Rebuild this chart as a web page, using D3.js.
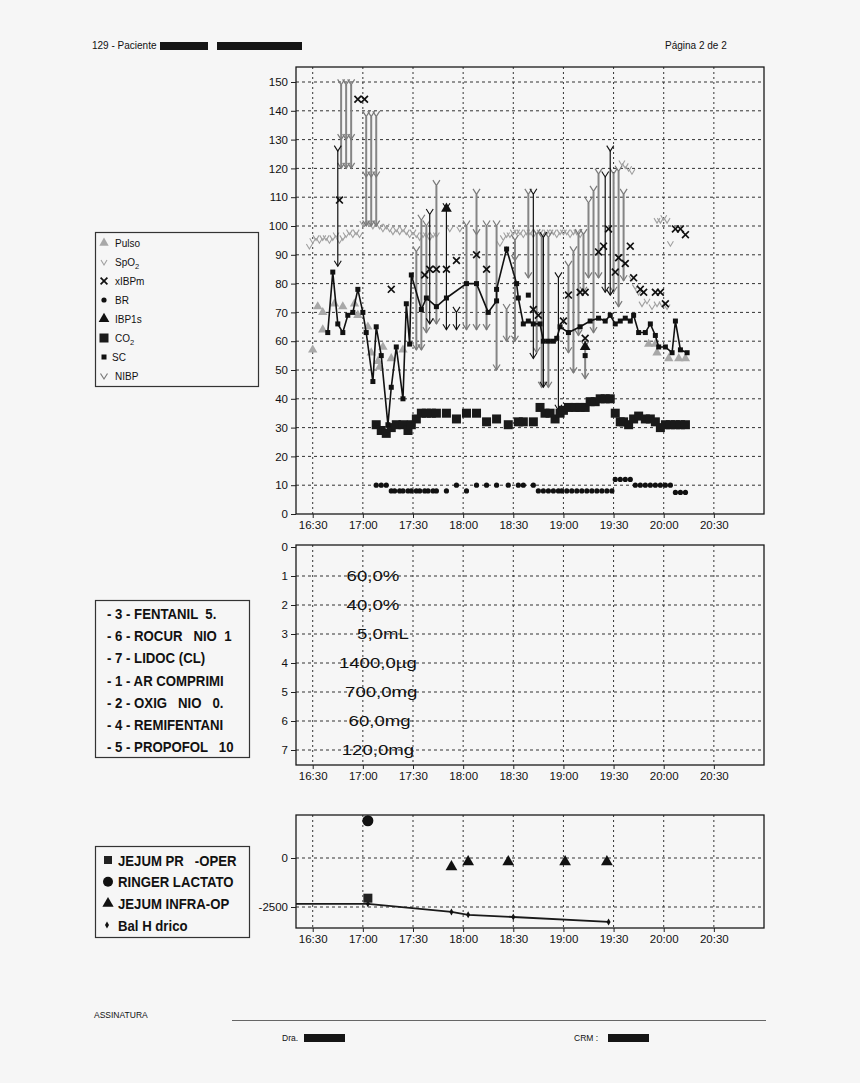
<!DOCTYPE html>
<html>
<head>
<meta charset="utf-8">
<script src="https://cdn.jsdelivr.net/npm/d3@7"></script>
<style>
  body { margin: 0; background: #f6f6f6; }
  text { font-family: "Liberation Sans", Arial, sans-serif; fill: #111; }
</style>
</head>
<body>
<svg id="page" width="860" height="1083"></svg>
<script>
const tp = d3.timeParse("%H:%M");

// ---------- vital signs (top chart) ----------
const pulsoTime = ["16:30","16:33","16:36","16:36","16:43","16:48","16:55","16:57","17:03","17:05","17:09","17:10","17:12","17:17","17:24","19:51","19:55","19:56","20:03","20:09","20:13"];
const pulsoVal  = [57,72,70,64,73,72,73,69,65,56,53,51,58,54,57,59,59,56,54,54,54];

const spo2Time = ["16:28","16:30","16:32","16:34","16:36","16:38","16:40","16:42","16:44","16:46","16:48","16:50","16:52","16:54","16:56","16:58",
  "17:00","17:02","17:04","17:06","17:08","17:10","17:12","17:14","17:16","17:18","17:20","17:22","17:24","17:26","17:28","17:30","17:32","17:34","17:36","17:38","17:40","17:42","17:44",
  "17:52","17:58","18:22","18:24","18:26","18:28","18:30","18:32","18:34","18:36","18:38","18:40","18:42","18:44","18:46","18:48","18:50","18:52","18:54","18:56","18:58",
  "19:00","19:02","19:04","19:06","19:08","19:10","19:35","19:37","19:39","19:41","19:56","19:58","20:00","20:02","20:04"];
const spo2Val  = [92,94,95,94,95,95,94,95,96,94,95,96,97,96,97,96,
  100,100,100,99,100,99,98,99,98,97,98,97,98,97,96,97,96,95,96,96,95,96,96,
  98,98,93,95,96,96,97,97,97,96,97,97,96,97,97,96,97,97,97,96,97,
  97,97,96,97,97,96,121,120,119,118,101,101,102,101,93];

const xibpTime = ["16:46","16:57","17:01","17:17","17:37","17:40","17:44","17:50","17:56","18:08","18:14","18:42","18:45","19:00","19:03","19:10","19:13","19:13",
  "19:21","19:24","19:27","19:31","19:33","19:37","19:40","19:42","19:46","19:48","19:55","19:58","20:01","20:07","20:10","20:13"];
const xibpVal  = [109,144,144,78,83,85,85,85,88,90,85,71,69,67,76,77,77,61,91,93,99,84,89,87,93,82,78,77,77,77,73,99,99,97];

const brTime = ["17:08","17:11","17:14","17:17","17:19","17:22","17:24","17:27","17:29","17:32","17:34","17:37","17:39","17:42","17:44",
  "17:50","17:56","18:02","18:08","18:14","18:20","18:27","18:33","18:36","18:42",
  "18:45","18:48","18:51","18:54","18:57","18:59","19:02","19:05","19:08","19:11","19:14","19:17","19:20","19:23","19:26","19:29",
  "19:31","19:34","19:37","19:40","19:43","19:46","19:49","19:52","19:55","19:58","20:01","20:04","20:07","20:10","20:13"];
const brVal  = [10,10,10,8,8,8,8,8,8,8,8,8,8,8,8,
  8,10,8,10,10,10,10,10,10,10,
  8,8,8,8,8,8,8,8,8,8,8,8,8,8,8,8,
  12,12,12,12,10,10,10,10,10,10,10,10,7.5,7.5,7.5];

const ibp1sTime = ["17:50","19:13"];
const ibp1sVal  = [106,58];

const co2Time = ["17:08","17:11","17:14","17:17","17:20","17:24","17:27","17:29","17:32","17:35","17:38","17:41","17:44","17:50","17:56","18:02","18:08","18:14",
  "18:20","18:27","18:33","18:36","18:42","18:46","18:49","18:52","18:55","18:58","19:00","19:03","19:07","19:10","19:13","19:16","19:19","19:22","19:25","19:28",
  "19:31","19:34","19:36","19:39","19:42","19:45","19:49","19:52","19:55","19:58","20:01","20:04","20:07","20:10","20:13"];
const co2Val  = [31,29,28,30,31,31,29,31,33,35,35,35,35,35,33,35,35,32,
  33,31,32,32,32,37,35,35,33,35,36,37,37,37,37,39,39,40,40,40,
  35,32,32,31,33,34,33,33,32,30,31,31,31,31,31];

const scTime = ["16:39","16:42","16:45","16:48","16:51","16:54","16:57","17:00","17:02","17:06","17:08","17:11","17:15","17:17","17:20","17:24","17:26","17:28","17:29",
  "17:35","17:38","17:44","17:50","18:02","18:08","18:15","18:20","18:20","18:26","18:32","18:33","18:36","18:39","18:42","18:46","18:48","18:51","18:54","18:56","18:58",
  "19:03","19:10","19:16","19:21","19:25","19:28","19:31","19:34","19:37","19:40","19:42","19:45","19:49","19:52","19:55","19:57","20:01","20:05","20:07","20:10","20:14"];
const scVal  = [63,84,66,63,69,70,78,70,63,46,65,55,31,44,58,40,73,59,83,
  71,75,72,75,80,80,70,74,78,92,80,75,66,67,66,66,60,60,60,61,65,
  63,65,67,68,67,69,66,67,68,67,69,63,63,66,62,58,58,56,67,57,56];
const scSoloTime = ["18:39","19:13"];
const scSoloVal  = [76,55];

const nibpTime = ["16:47","16:50","16:53","17:02","17:05","17:08","17:32","17:35","17:38","17:44","18:02","18:08","18:14","18:20","18:26","18:31",
  "18:39","18:44","18:47","18:51","19:03","19:06","19:09","19:12","19:13","19:15","19:18","19:21","19:30","19:33","19:36"];
const nibpSys  = [149,149,149,138,138,138,91,102,100,114,100,111,100,100,71,95,111,97,96,96,86,91,97,97,58,108,112,118,118,119,111];
const nibpDia  = [120,120,120,100,100,100,57,57,63,66,64,64,64,50,60,60,82,56,44,44,56,49,62,77,47,82,63,82,77,72,81];
const nibpMean = [130,130,130,117,117,117,null,null,null,null,null,97,null,null,null,88,null,null,null,null,null,null,null,null,null,null,null,null,null,null,null];
const nibpLoneTime = ["19:41","19:43","19:45","19:47","19:50","19:53","19:56","19:59","20:02"];
const nibpLoneVal  = [81,78,76,72,73,71,72,72,71];

const ibpTime = ["16:45","17:40","17:50","17:56","18:42","18:48","18:57","19:25","19:28"];
const ibpSys  = [126,104,106,70,111,96,82,117,126];
const ibpDia  = [86,66,64,64,54,44,36,77,76];

const vitalLegend = ["Pulso","SpO2","xIBPm","BR","IBP1s","CO2","SC","NIBP"];

// ---------- drugs (middle chart) ----------
const drugLabels = ["- 3 - FENTANIL  5.","- 6 - ROCUR   NIO  1","- 7 - LIDOC (CL)","- 1 - AR COMPRIMI","- 2 - OXIG   NIO   0.","- 4 - REMIFENTANI","- 5 - PROPOFOL   10"];
const doseRow   = [1,2,3,4,5,6,7];
const doseLabel = ["60,0%","40,0%","5,0mL","1400,0\u00b5g","700,0mg","60,0mg","120,0mg"];
const doseTime  = ["17:06","17:06","17:12","17:09","17:11","17:10","17:09"];

// ---------- fluids (bottom chart) ----------
const fluidLabels = ["JEJUM PR   -OPER","RINGER LACTATO","JEJUM INFRA-OP","Bal H drico"];
const jejumPreTime = ["17:03"], jejumPreVal = [-2050];
const ringerTime = ["17:03"], ringerVal = [1900];
const jejumInfraTime = ["17:53","18:03","18:27","19:01","19:26"];
const jejumInfraVal  = [-450,-200,-200,-200,-200];
const balTime = ["16:20","17:03","17:53","18:03","18:30","19:27"];
const balVal  = [-2340,-2340,-2750,-2900,-3010,-3260];

const xTickLabels = ["16:30","17:00","17:30","18:00","18:30","19:00","19:30","20:00","20:30"];

const pts = (ts, vs) => ts.map((t, i) => ({ t: tp(t), v: vs[i] }));

const svg = d3.select("#page");
const x = d3.scaleTime().domain([tp("16:20"), tp("21:00")]).range([296, 764]);
const xTicks = xTickLabels.map(tp);

const yTop = d3.scaleLinear().domain([0, 150]).range([514, 82]);
const yMid = d3.scaleLinear().domain([0, 7]).range([547, 750]);
const yBot = d3.scaleLinear().domain([-2500, 0]).range([907, 858]);

// text squeezed or widened horizontally, like the printed report fonts
function wideText(g, px, py, k) {
  return g.append("g").attr("transform", `translate(${px},${py}) scale(${k},1)`).append("text");
}

function panel(y0, y1, yScale, yTickVals, gridVals) {
  const g = svg.append("g");
  g.selectAll("line.vg").data(xTicks).join("line").attr("class", "vg")
    .attr("x1", d => x(d)).attr("x2", d => x(d)).attr("y1", y0).attr("y2", y1)
    .attr("stroke", "#333").attr("stroke-dasharray", "2,3");
  g.selectAll("line.hg").data(gridVals).join("line").attr("class", "hg")
    .attr("x1", 296).attr("x2", 764).attr("y1", d => yScale(d)).attr("y2", d => yScale(d))
    .attr("stroke", "#333").attr("stroke-dasharray", "3,3");
  g.append("rect").attr("x", 296).attr("y", y0).attr("width", 468).attr("height", y1 - y0)
    .attr("fill", "none").attr("stroke", "#1a1a1a").attr("stroke-width", 1.3);
  const ax = g.append("g").attr("transform", `translate(0,${y1})`)
    .call(d3.axisBottom(x).tickValues(xTicks).tickFormat(d3.timeFormat("%H:%M")).tickSize(4).tickPadding(3));
  const ay = g.append("g").attr("transform", "translate(296,0)")
    .call(d3.axisLeft(yScale).tickValues(yTickVals).tickFormat(d => String(d)).tickSize(5).tickPadding(3));
  [ax, ay].forEach(a => {
    a.select(".domain").remove();
    a.attr("font-family", null).attr("font-size", null);
    a.selectAll("text").style("font-size", "11.5px").attr("fill", "#111");
    a.selectAll("line").attr("stroke", "#222");
  });
  return g;
}

const vPath = (w, h) => `M${-w / 2},${-h}L0,0L${w / 2},${-h}`;
const xPath = s => `M${-s},${-s}L${s},${s}M${-s},${s}L${s},${-s}`;
const tri = d3.symbol(d3.symbolTriangle);

function marker(g, kind, cx, cy) {
  const m = g.append("g").attr("transform", `translate(${cx},${cy})`);
  if (kind === "pulso") m.append("path").attr("d", tri.size(38)()).attr("fill", "#a8a8a8");
  if (kind === "spo2") m.append("path").attr("d", vPath(6, 5)).attr("fill", "none").attr("stroke", "#a0a0a0").attr("stroke-width", 1.1);
  if (kind === "x") m.append("path").attr("d", xPath(3.4)).attr("stroke", "#111").attr("stroke-width", 1.7);
  if (kind === "br") m.append("circle").attr("r", 2.6).attr("fill", "#111");
  if (kind === "ibp1s") m.append("path").attr("d", tri.size(50)()).attr("fill", "#111");
  if (kind === "co2") m.append("rect").attr("x", -4.5).attr("y", -4.5).attr("width", 9).attr("height", 9).attr("fill", "#1a1a1a");
  if (kind === "sc") m.append("rect").attr("x", -2.5).attr("y", -2.5).attr("width", 5).attr("height", 5).attr("fill", "#111");
  if (kind === "nibp") m.append("path").attr("d", vPath(7, 5.5)).attr("fill", "none").attr("stroke", "#7a7a7a").attr("stroke-width", 1.2);
  if (kind === "ibp") m.append("path").attr("d", vPath(7, 5.5)).attr("fill", "none").attr("stroke", "#111").attr("stroke-width", 1.1);
  return m;
}

// ---------- header ----------
svg.append("text").attr("x", 92).attr("y", 49).style("font-size", "10px").text("129 - Paciente");
svg.append("rect").attr("x", 160).attr("y", 42).attr("width", 48).attr("height", 8).attr("fill", "#151515");
svg.append("rect").attr("x", 217).attr("y", 42).attr("width", 85).attr("height", 8).attr("fill", "#151515");
svg.append("text").attr("x", 665).attr("y", 49).style("font-size", "10px").text("P\u00e1gina 2 de 2");

// ---------- top chart ----------
const topG = panel(67, 514, yTop, d3.range(0, 151, 10), d3.range(10, 151, 10));

pts(spo2Time, spo2Val).forEach(d => marker(topG, "spo2", x(d.t), yTop(d.v)));
pts(nibpLoneTime, nibpLoneVal).forEach(d => marker(topG, "spo2", x(d.t), yTop(d.v)));

const nibp = nibpTime.map((t, i) => ({ t: tp(t), s: nibpSys[i], d: nibpDia[i], m: nibpMean[i] }));
topG.selectAll("line.nibp").data(nibp).join("line").attr("class", "nibp")
  .attr("x1", d => x(d.t)).attr("x2", d => x(d.t)).attr("y1", d => yTop(d.s)).attr("y2", d => yTop(d.d))
  .attr("stroke", "#858585").attr("stroke-width", 2);
nibp.forEach(d => {
  marker(topG, "nibp", x(d.t), yTop(d.s));
  marker(topG, "nibp", x(d.t), yTop(d.d));
  if (d.m !== null) marker(topG, "nibp", x(d.t), yTop(d.m));
});

const ibp = ibpTime.map((t, i) => ({ t: tp(t), s: ibpSys[i], d: ibpDia[i] }));
topG.selectAll("line.ibp").data(ibp).join("line").attr("class", "ibp")
  .attr("x1", d => x(d.t)).attr("x2", d => x(d.t)).attr("y1", d => yTop(d.s)).attr("y2", d => yTop(d.d))
  .attr("stroke", "#111").attr("stroke-width", 1.2);
ibp.forEach(d => { marker(topG, "ibp", x(d.t), yTop(d.s)); marker(topG, "ibp", x(d.t), yTop(d.d)); });

pts(pulsoTime, pulsoVal).forEach(d => marker(topG, "pulso", x(d.t), yTop(d.v)));
pts(co2Time, co2Val).forEach(d => marker(topG, "co2", x(d.t), yTop(d.v)));
pts(brTime, brVal).forEach(d => marker(topG, "br", x(d.t), yTop(d.v)));

const sc = pts(scTime, scVal);
topG.append("path").datum(sc)
  .attr("d", d3.line().x(d => x(d.t)).y(d => yTop(d.v)))
  .attr("fill", "none").attr("stroke", "#111").attr("stroke-width", 1.6);
sc.forEach(d => marker(topG, "sc", x(d.t), yTop(d.v)));
pts(scSoloTime, scSoloVal).forEach(d => marker(topG, "sc", x(d.t), yTop(d.v)));
pts(xibpTime, xibpVal).forEach(d => marker(topG, "x", x(d.t), yTop(d.v)));
pts(ibp1sTime, ibp1sVal).forEach(d => marker(topG, "ibp1s", x(d.t), yTop(d.v)));

// top legend
const legA = svg.append("g");
legA.append("rect").attr("x", 95.5).attr("y", 232.5).attr("width", 163).attr("height", 154)
  .attr("fill", "none").attr("stroke", "#333").attr("stroke-width", 1.2);
const legKinds = ["pulso", "spo2", "x", "br", "ibp1s", "co2", "sc", "nibp"];
vitalLegend.forEach((lab, i) => {
  const cy = 243 + i * 19;
  const k = legKinds[i];
  const off = (k === "spo2" || k === "nibp") ? 3 : 0;
  marker(legA, k, 104, cy + off);
  const t = legA.append("text").attr("x", k === "sc" ? 112 : 115).attr("y", cy + 3.5).style("font-size", "10px");
  if (lab.endsWith("2")) {
    t.append("tspan").text(lab.slice(0, -1));
    t.append("tspan").attr("dy", 3).style("font-size", "7.5px").text("2");
  } else t.text(lab);
});

// ---------- middle chart ----------
const midG = panel(545, 765, yMid, d3.range(0, 8), d3.range(1, 8));
doseLabel.forEach((lab, i) => {
  wideText(midG, x(tp(doseTime[i])), yMid(doseRow[i]), 1.2)
    .attr("text-anchor", "middle").attr("dominant-baseline", "central")
    .style("font-size", "15.5px").text(lab);
});

const legB = svg.append("g");
legB.append("rect").attr("x", 95.5).attr("y", 600.5).attr("width", 154).attr("height", 157)
  .attr("fill", "none").attr("stroke", "#333").attr("stroke-width", 1.2);
drugLabels.forEach((lab, i) => {
  wideText(legB, 107, 619 + i * 22.2, 0.88)
    .style("font-size", "15px").style("font-weight", "bold").style("white-space", "pre").text(lab);
});

// ---------- bottom chart ----------
const botG = panel(815, 928, yBot, [-2500, 0], [-2500, 0]);
const bal = pts(balTime, balVal);
botG.append("path").datum(bal)
  .attr("d", d3.line().x(d => x(d.t)).y(d => yBot(d.v)))
  .attr("fill", "none").attr("stroke", "#1a1a1a").attr("stroke-width", 1.8);
botG.selectAll("path.bal").data(bal.slice(1)).join("path").attr("class", "bal")
  .attr("transform", d => `translate(${x(d.t)},${yBot(d.v)})`)
  .attr("d", d3.symbol(d3.symbolDiamond).size(14)()).attr("fill", "#111");
pts(jejumPreTime, jejumPreVal).forEach(d =>
  botG.append("rect").attr("x", x(d.t) - 4.5).attr("y", yBot(d.v) - 4.5).attr("width", 9).attr("height", 9).attr("fill", "#222"));
pts(ringerTime, ringerVal).forEach(d =>
  botG.append("circle").attr("cx", x(d.t)).attr("cy", yBot(d.v)).attr("r", 5.5).attr("fill", "#111"));
pts(jejumInfraTime, jejumInfraVal).forEach(d =>
  botG.append("path").attr("transform", `translate(${x(d.t)},${yBot(d.v)})`).attr("d", tri.size(60)()).attr("fill", "#111"));

const legC = svg.append("g");
legC.append("rect").attr("x", 95.5).attr("y", 846.5).attr("width", 154).attr("height", 91)
  .attr("fill", "none").attr("stroke", "#333").attr("stroke-width", 1.2);
const legCy = i => 860 + i * 21.7;
legC.append("rect").attr("x", 104).attr("y", legCy(0) - 4).attr("width", 8).attr("height", 8).attr("fill", "#222");
legC.append("circle").attr("cx", 108).attr("cy", legCy(1)).attr("r", 5).attr("fill", "#111");
legC.append("path").attr("transform", `translate(108,${legCy(2)})`).attr("d", tri.size(55)()).attr("fill", "#111");
legC.append("path").attr("transform", `translate(107,${legCy(3)})`).attr("d", d3.symbol(d3.symbolDiamond).size(14)()).attr("fill", "#111");
fluidLabels.forEach((lab, i) => {
  wideText(legC, 118, legCy(i) + 5.5, 0.85)
    .style("font-size", "15.5px").style("font-weight", "bold").style("white-space", "pre").text(lab);
});

// ---------- footer ----------
svg.append("text").attr("x", 94).attr("y", 1018).style("font-size", "8.5px").text("ASSINATURA");
svg.append("line").attr("x1", 232).attr("x2", 766).attr("y1", 1020.5).attr("y2", 1020.5).attr("stroke", "#666");
svg.append("text").attr("x", 282).attr("y", 1041).style("font-size", "8.5px").text("Dra.");
svg.append("rect").attr("x", 304).attr("y", 1034).attr("width", 41).attr("height", 8).attr("fill", "#151515");
svg.append("text").attr("x", 574).attr("y", 1041).style("font-size", "8.5px").text("CRM :");
svg.append("rect").attr("x", 608).attr("y", 1034).attr("width", 41).attr("height", 8).attr("fill", "#151515");
</script>
</body>
</html>
